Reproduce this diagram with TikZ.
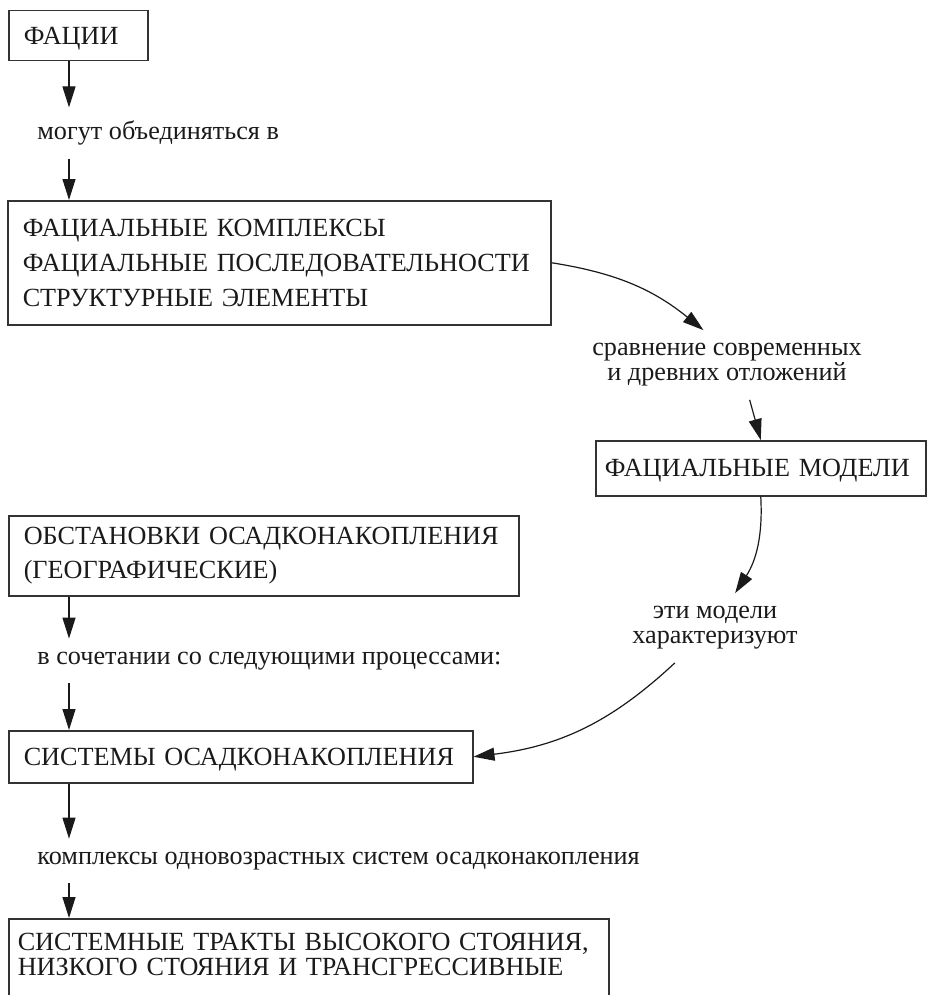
\documentclass[tikz,border=0pt]{standalone}
\usepackage{fontspec}
\setmainfont{Liberation Serif}
\usetikzlibrary{arrows.meta}
\definecolor{facInk}{HTML}{1A1A1A}
\definecolor{facLine}{HTML}{333333}
\tikzset{
  fac box/.style={draw=facLine, line width=0.75pt, anchor=north west, align=left, inner xsep=7.5pt, text=facInk, font=\fontsize{13.1}{17}\selectfont},
  fac one/.style={fac box, text depth=0pt},
  fac label/.style={text=facInk, font=\fontsize{13.1}{12.5}\selectfont, align=center, inner xsep=0pt, inner ysep=6.5pt},
  fac arrow/.style={draw=facInk, line width=0.6pt, -{Triangle[length=10.5pt,width=6.5pt]}},
}

\begin{document}
\begin{tikzpicture}[x=0.5pt, y=-0.5pt]
  \useasboundingbox (0,0) rectangle (927,995);
  \coordinate (spine) at (69,0);

  % Left column, top
  \node[fac one, text width=54.5pt, minimum height=25pt] (fac) at (8,10) {ФАЦИИ};
  \node[fac label, anchor=west] (mog) at (37,133) {могут объединяться в};
  \node[fac box, text width=256.5pt, minimum height=62pt, font=\fontsize{13.1}{17.5}\selectfont] (kompl) at (7,200)
    {ФАЦИАЛЬНЫЕ КОМПЛЕКСЫ\\ФАЦИАЛЬНЫЕ ПОСЛЕДОВАТЕЛЬНОСТИ\\СТРУКТУРНЫЕ ЭЛЕМЕНТЫ};
  \draw[fac arrow] (fac.south -| spine) -- (mog.north -| spine);
  \draw[fac arrow] (mog.south -| spine) -- (kompl.north -| spine);

  % Right column: models
  \node[fac label] (cmp) at (727,365) {сравнение современных\\и древних отложений};
  \node[fac one, text width=156pt, inner xsep=4.5pt, minimum height=27.5pt] (modeli) at (595,440) {ФАЦИАЛЬНЫЕ МОДЕЛИ};
  \node[fac label] (eti) at (715,628) {эти модели\\характеризуют};
  \draw[fac arrow] (kompl.east) to[bend left=15] (cmp.124);
  \draw[fac arrow] (cmp.-57) -- (modeli.north);
  \draw[fac arrow] (modeli.south) to[bend left=18] (eti.60);

  % Left column, bottom
  \node[fac box, text width=240pt, minimum height=40pt] (obst) at (8,515)
    {\rule{0pt}{9pt}ОБСТАНОВКИ ОСАДКОНАКОПЛЕНИЯ\\(ГЕОГРАФИЧЕСКИЕ)};
  \node[fac label, anchor=west] (soch) at (37,661) {в сочетании со следующими процессами:};
  \node[fac one, text width=217pt, minimum height=26pt] (sist) at (8,730) {СИСТЕМЫ ОСАДКОНАКОПЛЕНИЯ};
  \node[fac label, anchor=west] (kmp) at (37,861) {комплексы одновозрастных систем осадконакопления};
  \node[fac box, text width=291pt, inner xsep=4.5pt, inner ysep=7pt, text depth=40pt, font=\fontsize{13.1}{12.5}\selectfont] (trakt) at (8,918)
    {СИСТЕМНЫЕ ТРАКТЫ ВЫСОКОГО СТОЯНИЯ,\\НИЗКОГО СТОЯНИЯ И ТРАНСГРЕССИВНЫЕ};
  \draw[fac arrow] (obst.south -| spine) -- (soch.north -| spine);
  \draw[fac arrow] (soch.south -| spine) -- (sist.north -| spine);
  \draw[fac arrow] (eti.221) to[bend left=18] (sist.east);
  \draw[fac arrow] (sist.south -| spine) -- (kmp.north -| spine);
  \draw[fac arrow] (kmp.south -| spine) -- (trakt.north -| spine);
\end{tikzpicture}
\end{document}
